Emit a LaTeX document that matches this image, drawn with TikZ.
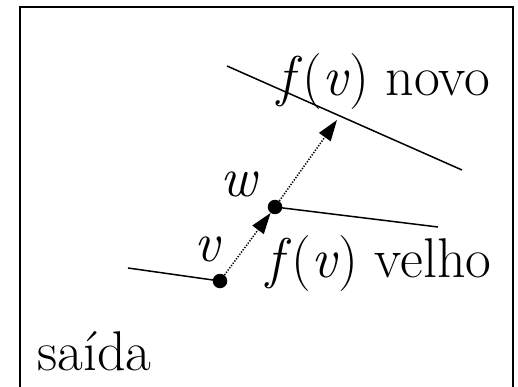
\documentclass[tikz,border=0pt]{standalone}
\usetikzlibrary{arrows.meta}
\begin{document}
\begin{tikzpicture}[x=1pt,y=-1pt,
  solid line/.style={line width=1.5pt},
  dotpt/.style={circle,fill=black,inner sep=0pt,minimum size=14.5pt},
  dotarrow/.style={line width=1.5pt,dash pattern=on 1.3pt off 1.5pt,
     -{Triangle[length=21pt,width=14pt]}},
  lbl/.style={font=\fontsize{56}{60}\selectfont,inner sep=0pt}]
\useasboundingbox (0,0) rectangle (518,387);
\draw[line width=1.8pt] (20,395) -- (20,7) -- (513,7) -- (513,395);
% lines
\coordinate (n1) at (227,66);
\coordinate (n2) at (462,170);
\draw[solid line] (n1) -- (n2);
\node[dotpt] (w) at (275,207) {};
\node[dotpt] (v) at (220,281) {};
\coordinate (o2) at (438,227);
\coordinate (l1) at (128,268);
\draw[solid line] (w.center) -- (o2);
\draw[solid line] (l1) -- (v.center);
\coordinate (t) at (337,120);
\draw[dotarrow] (v) -- (w);
\draw[dotarrow] (w) -- (t);
% labels
\node[lbl,anchor=base west] (lnovo) at (277,96) {\textit{f}(\textit{v}) novo};
\node[lbl,anchor=base west] (lvelho) at (266,277) {\textit{f}(\textit{v}) velho};
\node[lbl,anchor=base] (lw) at (240,196) {\textit{w}};
\node[lbl,anchor=base] (lv) at (208,261) {\textit{v}};
\node[lbl,anchor=base west] (ls) at (37,370) {saída};
\end{tikzpicture}
\end{document}
